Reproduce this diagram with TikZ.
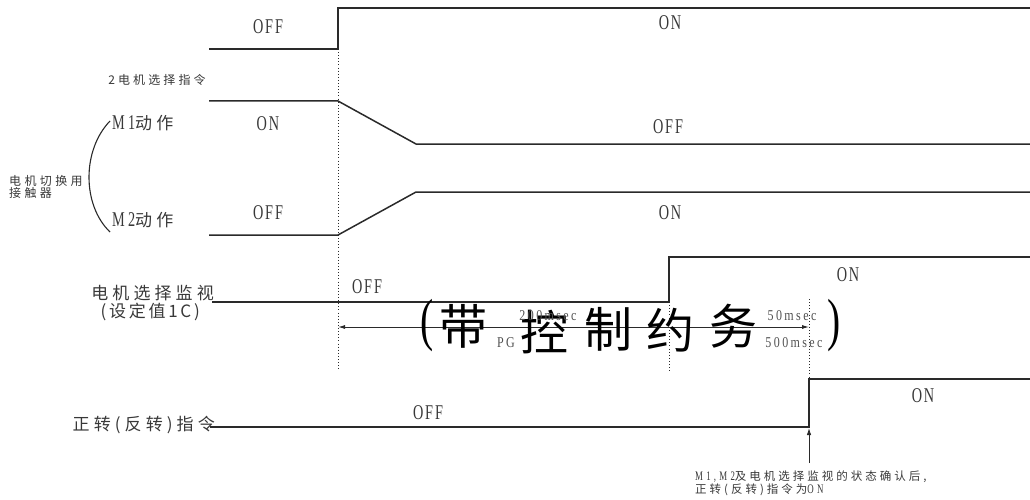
\documentclass[tikz,border=0pt]{standalone}
\usepackage{fontspec}
\usetikzlibrary{arrows.meta}
\newfontfamily\cond[FakeStretch=0.68]{Liberation Serif}
\newfontfamily\condb[FakeStretch=0.8]{Liberation Serif}
\newfontfamily\cjk{Noto Sans CJK SC}
\definecolor{ink}{HTML}{2A2A2A}
\definecolor{txt}{HTML}{383838}
\definecolor{lite}{HTML}{505050}
\begin{document}
\begin{tikzpicture}[x=1pt,y=-1pt,
  sig/.style={draw=ink,line width=1.5pt},
  dotline/.style={draw=ink,line width=0.9pt,dash pattern=on 0.9pt off 2.2pt},
  st/.style={font=\cond\fontsize{21}{21}\selectfont\addfontfeature{LetterSpace=9},text=txt,inner sep=0pt},
  tm/.style={font=\condb\fontsize{15}{15}\selectfont\addfontfeature{LetterSpace=16},text=lite,inner sep=0pt},
  lab/.style={font=\cjk\fontsize{17}{17}\selectfont\addfontfeature{LetterSpace=24},text=txt,inner sep=0pt},
  small/.style={font=\cjk\fontsize{12}{11}\selectfont\addfontfeature{LetterSpace=26},text=txt,inner sep=0pt},
  note/.style={font=\cjk\fontsize{11.5}{12.5}\selectfont\addfontfeature{LetterSpace=26},text=txt,inner sep=0pt,align=left},
  calli/.style={font=\cjk\fontsize{48}{48}\selectfont,text=black,inner sep=0pt},
  paren/.style={font=\cond\fontsize{58}{58}\selectfont,text=black,inner sep=0pt},
  arr/.style={draw=ink,line width=0.9pt}
]
\useasboundingbox (0,0) rectangle (1030,500);

% 2-motor select command
\coordinate (a0) at (209,49);
\coordinate (a1) at (338,49);
\coordinate (a2) at (338,8);
\coordinate (a3) at (1030,8);
\draw[sig] (a0) -- (a1) -- (a2) -- (a3);
\node[st] (aoff) at (268,27) {OFF};
\node[st] (aon) at (670,23) {ON};
\node[small] (alab) at (157,80) {2电机选择指令};

% M1
\coordinate (b0) at (209,101);
\coordinate (b1) at (338,101);
\coordinate (b2) at (416,144);
\coordinate (b3) at (1030,144);
\draw[sig] (b0) -- (b1) -- (b2) -- (b3);
\node[st] (bon) at (268,124) {ON};
\node[st] (boff) at (668,127) {OFF};
\node[lab,anchor=west] (blab) at (112,123) {{\cond\fontsize{21}{21}\selectfont\addfontfeature{LetterSpace=15}M1}动作};

% M2
\coordinate (c0) at (209,235);
\coordinate (c1) at (338,235);
\coordinate (c2) at (416,192);
\coordinate (c3) at (1030,192);
\draw[sig] (c0) -- (c1) -- (c2) -- (c3);
\node[st] (coff) at (268,213) {OFF};
\node[st] (con) at (670,213) {ON};
\node[lab,anchor=west] (clab) at (112,220) {{\cond\fontsize{21}{21}\selectfont\addfontfeature{LetterSpace=15}M2}动作};

% contactor bracket
\coordinate (k0) at (110,121);
\coordinate (k1) at (110,232);
\draw[ink,line width=1.1pt] (k0) .. controls (82,150) and (82,205) .. (k1);
\node[small,anchor=west,align=left,font=\cjk\fontsize{12}{10.5}\selectfont\addfontfeature{LetterSpace=28}] (klab) at (9,187) {电机切换用\\接触器};

% motor select monitor
\coordinate (d0) at (212,302);
\coordinate (d1) at (669,302);
\coordinate (d2) at (669,257);
\coordinate (d3) at (1030,257);
\draw[sig] (d0) -- (d1) -- (d2) -- (d3);
\node[st] (doff) at (367,287) {OFF};
\node[st] (don) at (848,275) {ON};
\node[lab,anchor=east] (dlab) at (214,293) {电机选择监视};
\node[lab,anchor=east,font=\cjk\fontsize{17}{17}\selectfont\addfontfeature{LetterSpace=16}] (dlab2) at (200,312) {(设定值1C)};

% forward (reverse) command
\coordinate (e0) at (210,427);
\coordinate (e1) at (809,427);
\coordinate (e2) at (809,379);
\coordinate (e3) at (1030,379);
\draw[sig] (e0) -- (e1) -- (e2) -- (e3);
\node[st] (eoff) at (428,413) {OFF};
\node[st] (eon) at (923,396) {ON};
\node[lab,anchor=east] (elab) at (215,425) {正转(反转)指令};

% dotted timing lines
\coordinate (v1b) at (338,370);
\coordinate (v2b) at (669,373);
\coordinate (v3t) at (809,299);
\draw[dotline] (a1) -- (v1b);
\draw[dotline] (d1) -- (v2b);
\draw[dotline] (v3t) -- (e2);

% timing arrow
\coordinate (t0) at (338,327);
\coordinate (t1) at (809,327);
\draw[arr,{Latex[length=7pt,width=4pt]}-{Latex[length=7pt,width=4pt]}] (t0) -- (t1);

% calligraphic overlay
\node[paren] (pl) at (427,326) {(};
\node[calli] (g1) at (463,326) {带};
\node[calli] (g2) at (544,332) {控};
\node[calli] (g3) at (608,329) {制};
\node[calli] (g4) at (670,330) {约};
\node[calli] (g5) at (733,326) {务};
\node[paren] (pr) at (834,326) {)};

\node[tm] (t200) at (548,316) {200msec};
\node[tm] (tpg) at (506,343) {PG};
\node[tm] (t50) at (792,316) {50msec};
\node[tm] (t500) at (794,343) {500msec};

% confirmation arrow and note
\coordinate (u0) at (809,463);
\coordinate (u1) at (809,428);
\draw[arr,-{Latex[length=7pt,width=4.5pt]}] (u0) -- (u1);
\node[note,anchor=north west] (nt) at (695,471) {{\cond\fontsize{13}{13}\selectfont\addfontfeature{LetterSpace=25}M1,M2}及电机选择监视的状态确认后,\\正转(反转)指令为{\cond\fontsize{13}{13}\selectfont\addfontfeature{LetterSpace=25}ON}};
\end{tikzpicture}
\end{document}
